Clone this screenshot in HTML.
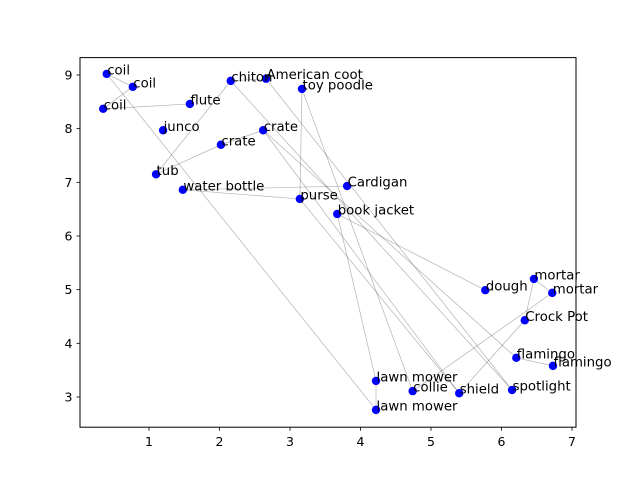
<!DOCTYPE html>
<html><head><meta charset="utf-8"><style>
body{margin:0;background:#fff}
svg{display:block;font-family:"DejaVu Sans","Liberation Sans",sans-serif}
</style></head><body>
<svg id="chart" width="640" height="480">
<rect x="0" y="0" width="640" height="480" fill="#fff"/>
<g id="edges"></g>
<g id="pts"></g>
<g id="labels"></g>
<rect x="80" y="57.6" width="496" height="369.6" fill="none" stroke="#000" stroke-width="1"/>
<g id="xt"></g>
<g id="yt"></g>
</svg>
<script>
const labels=["coil","coil","coil","flute","junco","tub","water bottle","crate","chiton","American coot","toy poodle","crate","purse","Cardigan","book jacket","dough","mortar","mortar","Crock Pot","flamingo","flamingo","spotlight","shield","collie","lawn mower","lawn mower"];
const xs=[0.40,0.77,0.35,1.58,1.20,1.10,1.48,2.02,2.16,2.66,3.17,2.62,3.14,3.81,3.67,5.77,6.46,6.72,6.33,6.21,6.73,6.15,5.40,4.74,4.22,4.22];
const ys=[9.02,8.78,8.37,8.46,7.97,7.15,6.86,7.70,8.89,8.93,8.74,7.97,6.69,6.93,6.41,4.99,5.20,4.94,4.43,3.73,3.58,3.13,3.07,3.11,3.30,2.76];
const edgeFrom=[0,1,2,0,5,8,8,9,10,10,11,11,11,5,6,6,14,24,14,23,16,16,18,19,12];
const edgeTo=[1,2,3,25,8,9,21,21,12,23,7,19,22,7,13,12,24,25,15,17,17,18,22,20,22];
const xTicks=[1,2,3,4,5,6,7];
const yTicks=[3,4,5,6,7,8,9];
const X=v=>149+(v-1)*70.5;
const Y=v=>397-(v-3)*53.67;
const NS="http://www.w3.org/2000/svg";
function mk(tag,attrs,parent){const e=document.createElementNS(NS,tag);for(const k in attrs)e.setAttribute(k,attrs[k]);document.getElementById(parent).appendChild(e);return e;}
edgeFrom.forEach((a,i)=>{const b=edgeTo[i];
const l=mk('line',{x1:X(xs[a]),y1:Y(ys[a]),x2:X(xs[b]),y2:Y(ys[b]),stroke:'#000','stroke-opacity':0.3,'stroke-width':0.7},'edges');

});
xs.forEach((v,i)=>{
const c=mk('circle',{cx:X(v),cy:Y(ys[i]),r:4.2,fill:'#0000ff'},'pts');


const t=mk('text',{x:X(v)+0.5,y:Y(ys[i])+0.5,'font-size':13.3,fill:'#000'},'labels');
t.textContent=labels[i];

});
xTicks.forEach(v=>{
const l=mk('line',{x1:X(v),x2:X(v),y1:427.2,y2:430.7,stroke:'#000','stroke-width':0.8},'xt');


const t=mk('text',{x:X(v),y:446,'font-size':12.5,'text-anchor':'middle'},'xt');
t.textContent=v;

});
yTicks.forEach(v=>{
const l=mk('line',{x1:76.5,x2:80,y1:Y(v),y2:Y(v),stroke:'#000','stroke-width':0.8},'yt');


const t=mk('text',{x:72.5,y:Y(v)+4.5,'font-size':12.5,'text-anchor':'end'},'yt');
t.textContent=v;

});
</script>
</body></html>
